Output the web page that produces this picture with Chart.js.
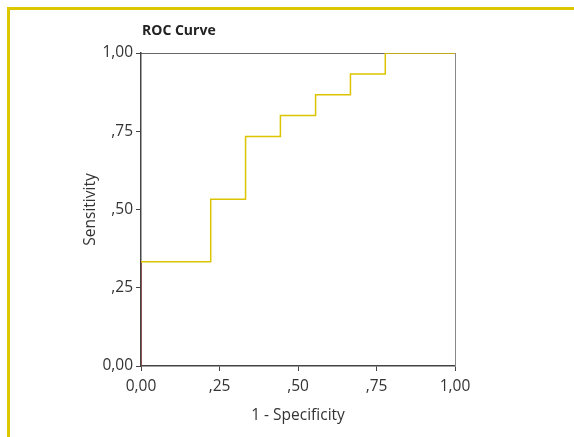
<!DOCTYPE html>
<html>
<head>
<meta charset="utf-8">
<script src="https://cdn.jsdelivr.net/npm/chart.js@4.4.0/dist/chart.umd.min.js"></script>
<style>
    html, body { margin: 0; padding: 0; background: #fff; }
    #wrap { position: relative; width: 574px; height: 437px; }
    #frame { position: absolute; left: 7px; top: 7px; right: 0; bottom: 0;
             border-left: 3px solid #dcc600; border-top: 3px solid #dcc600; }
    canvas { position: absolute; left: 0; top: 0; }
</style>
</head>
<body>
<div id="wrap">
    <div id="frame"></div>
    <canvas id="chart" width="574" height="437"></canvas>
</div>
<script>
// ROC curve coordinates (1 - specificity, sensitivity)
const fpr = [0, 0, 0.111, 0.222, 0.222, 0.333, 0.333, 0.444, 0.444, 0.556, 0.556, 0.667, 0.667, 0.778, 0.778, 0.889, 1];
const tpr = [0, 0.333, 0.333, 0.333, 0.533, 0.533, 0.733, 0.733, 0.8, 0.8, 0.867, 0.867, 0.933, 0.933, 1, 1, 1];
const tickValues = [0, 0.25, 0.5, 0.75, 1];

function fmt(v) {
    if (v === 0) return '0,00';
    if (v === 1) return '1,00';
    return ',' + Math.round(v * 100);
}

const font = { family: 'Open Sans', size: 15.5 };
const txt = '#333';

const titlePlugin = {
    id: 'plotTitle',
    afterDraw(chart) {
        const ctx = chart.ctx;
        ctx.save();
        ctx.font = 'bold 14px "Open Sans"';
        ctx.fillStyle = '#222';
        ctx.textBaseline = 'middle';
        ctx.fillText('ROC Curve', chart.chartArea.left + 1, 31);
        ctx.restore();
    }
};

const ctx = document.getElementById('chart').getContext('2d');
new Chart(ctx, {
    type: 'scatter',
    data: {
        datasets: [{
            data: fpr.map((x, i) => ({ x: x, y: tpr[i] })),
            showLine: true,
            borderColor: '#dcc400',
            borderWidth: 1.5,
            pointRadius: 0,
            fill: false,
            segment: {
                borderColor: c => c.p0DataIndex === 0 ? '#8b3a3a' : '#dcc400'
            }
        }]
    },
    options: {
        responsive: false,
        animation: false,
        layout: { padding: { left: 71, right: 119, top: 53, bottom: 11 } },
        plugins: { legend: { display: false }, tooltip: { enabled: false } },
        scales: {
            x: {
                type: 'linear', min: 0, max: 1,
                afterBuildTicks: s => { s.ticks = tickValues.map(v => ({ value: v })); },
                afterFit: s => { s.height = 60; },
                ticks: { callback: fmt, font: font, color: txt, padding: 6, maxRotation: 0 },
                grid: { drawOnChartArea: false, tickLength: 5, color: '#444' },
                border: { color: '#444', width: 1.5 },
                title: { display: true, text: '1 - Specificity', font: font, color: txt, padding: { top: 0, bottom: 1 } }
            },
            x2: {
                type: 'linear', position: 'top', min: 0, max: 1,
                afterFit: s => { s.height = 0; },
                ticks: { display: false },
                grid: { display: false },
                border: { color: '#666', width: 1 }
            },
            y: {
                type: 'linear', min: 0, max: 1,
                afterBuildTicks: s => { s.ticks = tickValues.map(v => ({ value: v })); },
                afterFit: s => { s.width = 70; },
                ticks: { callback: fmt, font: font, color: txt, padding: 3 },
                grid: { drawOnChartArea: false, tickLength: 5, color: '#444' },
                border: { color: '#444', width: 1.5 },
                title: { display: true, text: 'Sensitivity', font: font, color: txt, padding: { top: 10, bottom: 0 } }
            },
            y2: {
                type: 'linear', position: 'right', min: 0, max: 1,
                afterFit: s => { s.width = 0; },
                ticks: { display: false },
                grid: { display: false },
                border: { color: '#888', width: 1 }
            }
        }
    },
    plugins: [titlePlugin]
});
</script>
</body>
</html>
